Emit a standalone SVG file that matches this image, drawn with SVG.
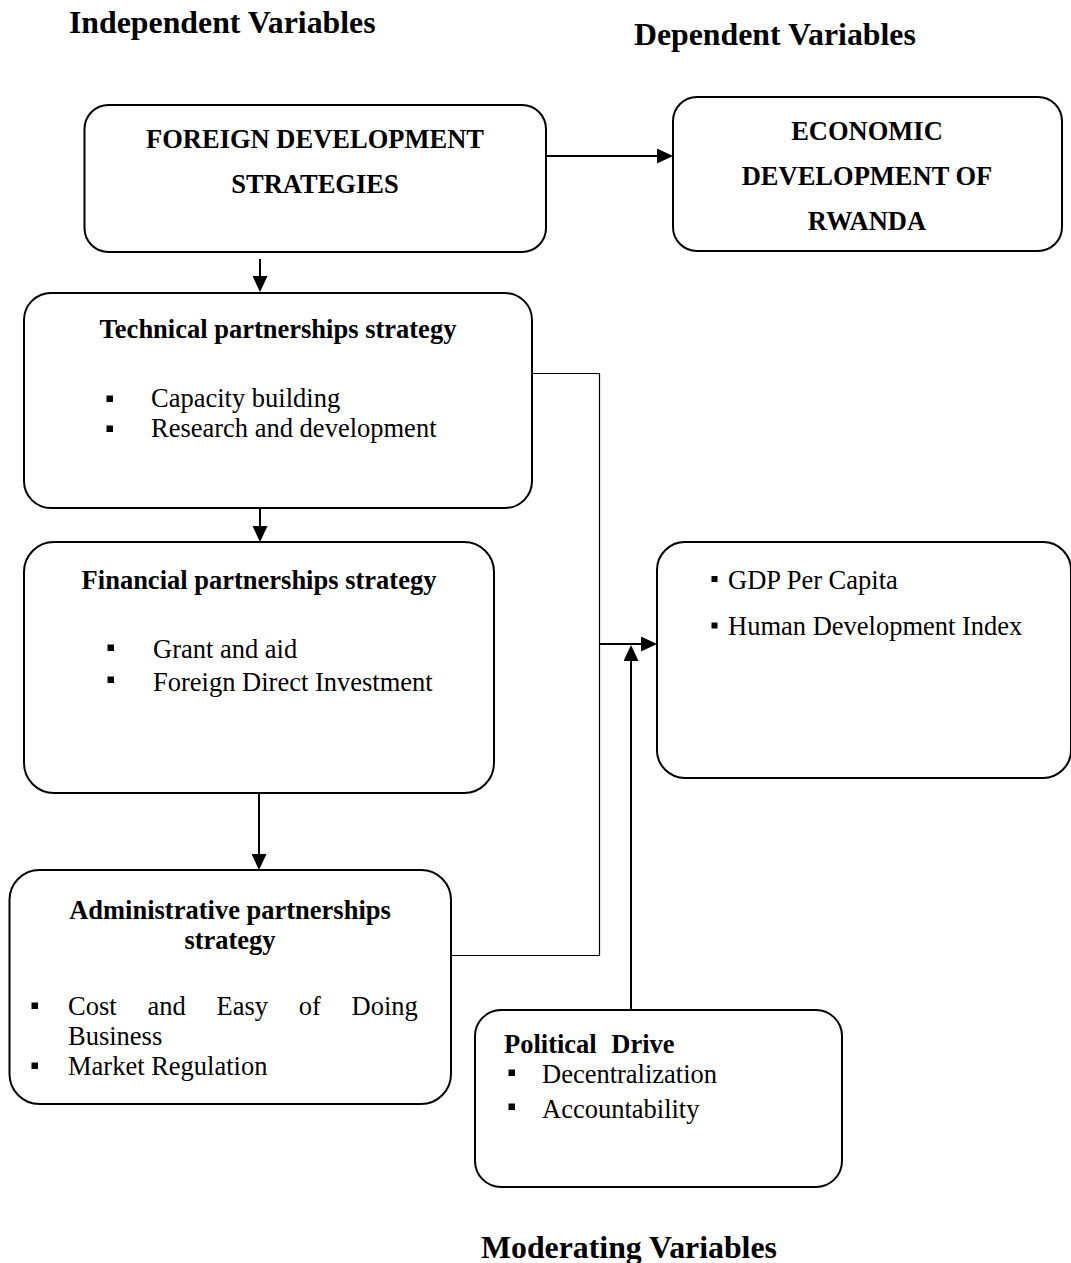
<svg xmlns="http://www.w3.org/2000/svg" width="1071" height="1263" viewBox="0 0 1071 1263">
<style>
text{font-family:"Liberation Serif","Times New Roman",serif;fill:#000}
.h{font-size:31.8px;font-weight:bold}
.b{font-size:26.5px;font-weight:bold}
.t{font-size:26.5px}
.c{text-anchor:middle}
.box{fill:#fff;stroke:#000;stroke-width:2}
.arr{fill:none;stroke:#000;stroke-width:2;marker-end:url(#ah)}
.thin{fill:none;stroke:#000;stroke-width:1.2}
.bul{fill:#000}
</style>
<defs>
<marker id="ah" markerUnits="userSpaceOnUse" markerWidth="16" markerHeight="15" refX="12" refY="7.5" orient="auto">
<path d="M0,0 L16,7.5 L0,15 Z" fill="#000"/>
</marker>
</defs>
<rect width="1071" height="1263" fill="#fff"/>

<g id="titles">
<text class="h" x="69" y="33">Independent Variables</text>
<text class="h" x="634" y="45">Dependent Variables</text>
<text class="h" x="481" y="1258">Moderating Variables</text>
</g>

<g id="connectors">
<line class="arr" x1="546" y1="156" x2="669" y2="156"/>
<line class="arr" x1="260" y1="259" x2="260" y2="288"/>
<line class="arr" x1="260" y1="508" x2="260" y2="538"/>
<line class="arr" x1="259" y1="793" x2="259" y2="866"/>
<polyline class="thin" points="532,373.5 599.5,373.5 599.5,955.5 451,955.5"/>
<line class="arr" x1="599" y1="644" x2="653" y2="644"/>
<line class="arr" x1="631" y1="1010" x2="631" y2="649"/>
</g>

<g id="foreign">
<rect class="box" x="84.5" y="105" width="461.5" height="147" rx="24"/>
<text class="b c" x="315" y="148">FOREIGN DEVELOPMENT</text>
<text class="b c" x="315" y="193">STRATEGIES</text>
</g>

<g id="economic">
<rect class="box" x="673" y="97" width="389" height="154" rx="24"/>
<text class="b c" x="867" y="140">ECONOMIC</text>
<text class="b c" x="867" y="185">DEVELOPMENT OF</text>
<text class="b c" x="867" y="230">RWANDA</text>
</g>

<g id="technical">
<rect class="box" x="24" y="293" width="508" height="215" rx="27"/>
<text class="b c" x="278" y="338">Technical partnerships strategy</text>
<rect class="bul" x="106.5" y="395.5" width="6.5" height="6.5"/>
<rect class="bul" x="106.5" y="425.5" width="6.5" height="6.5"/>
<text class="t" x="151" y="407">Capacity building</text>
<text class="t" x="151" y="437">Research and development</text>
</g>

<g id="financial">
<rect class="box" x="24" y="542" width="470" height="251" rx="30"/>
<text class="b c" x="259" y="589">Financial partnerships strategy</text>
<rect class="bul" x="107.5" y="644.5" width="6.5" height="6.5"/>
<rect class="bul" x="107.5" y="676.5" width="6.5" height="6.5"/>
<text class="t" x="153" y="658">Grant and aid</text>
<text class="t" x="153" y="691">Foreign Direct Investment</text>
</g>

<g id="administrative">
<rect class="box" x="9.5" y="870" width="441.5" height="234" rx="30"/>
<text class="b c" x="230" y="919">Administrative partnerships</text>
<text class="b c" x="230" y="949">strategy</text>
<rect class="bul" x="31.5" y="1002.5" width="6.5" height="6.5"/>
<rect class="bul" x="31.5" y="1062.5" width="6.5" height="6.5"/>
<text class="t" y="1015"><tspan x="68">Cost</tspan><tspan x="147.4">and</tspan><tspan x="216.5">Easy</tspan><tspan x="298.8">of</tspan><tspan x="351.6">Doing</tspan></text>
<text class="t" x="68" y="1045">Business</text>
<text class="t" x="68" y="1075">Market Regulation</text>
</g>

<g id="indicators">
<rect class="box" x="657" y="542" width="414" height="236" rx="28"/>
<rect class="bul" x="711.5" y="576" width="6" height="6"/>
<rect class="bul" x="711.5" y="622.5" width="6" height="6"/>
<text class="t" x="728" y="589">GDP Per Capita</text>
<text class="t" x="728" y="635">Human Development Index</text>
</g>

<g id="political">
<rect class="box" x="475" y="1010" width="367" height="177" rx="26"/>
<text class="b" x="504" y="1053" word-spacing="8">Political Drive</text>
<rect class="bul" x="508.5" y="1069.5" width="6.5" height="6.5"/>
<rect class="bul" x="508.5" y="1103.5" width="6.5" height="6.5"/>
<text class="t" x="542" y="1083">Decentralization</text>
<text class="t" x="542" y="1118">Accountability</text>
</g>
</svg>
